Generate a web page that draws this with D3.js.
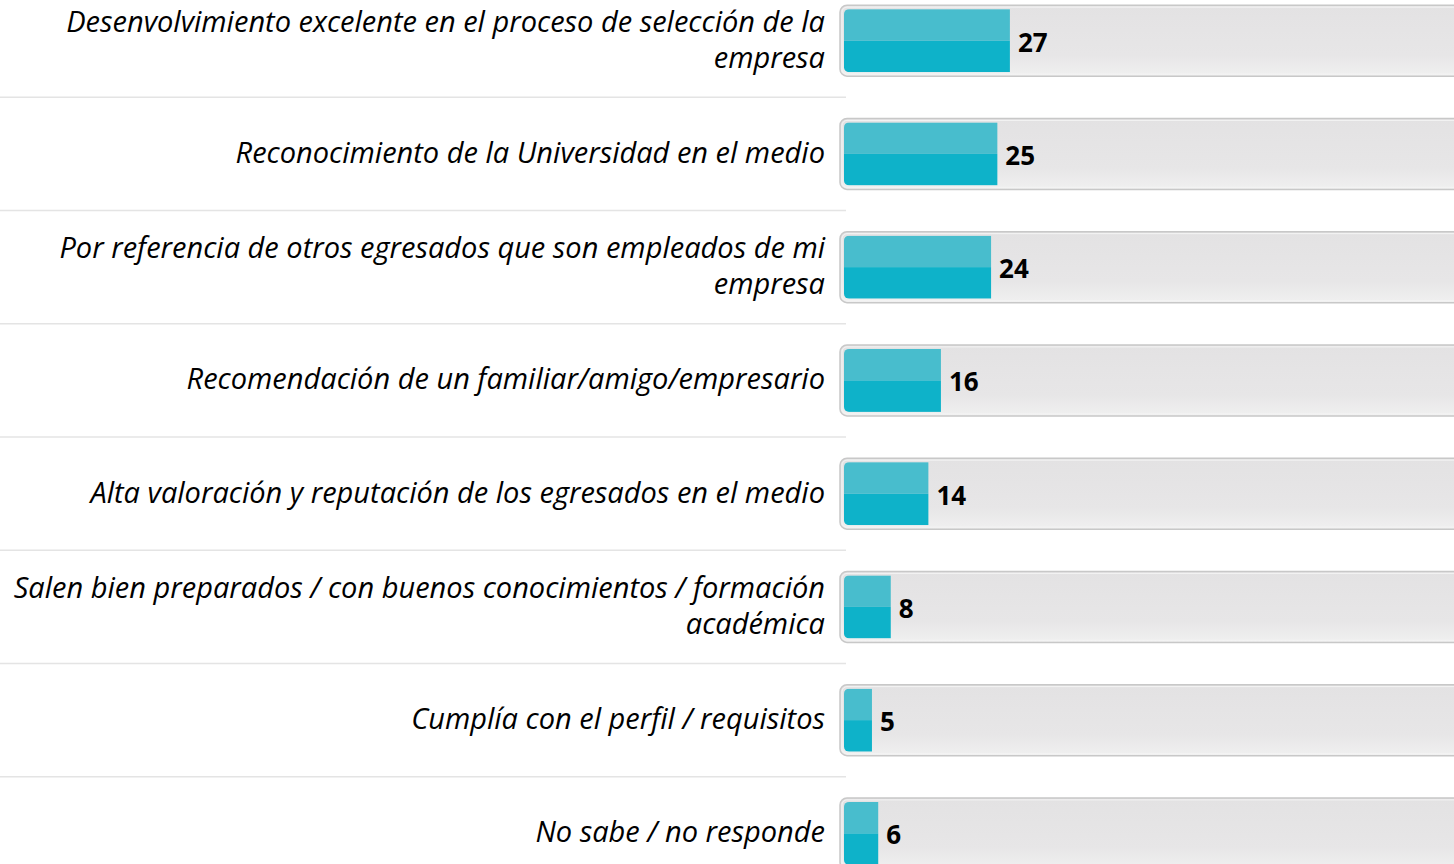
<!DOCTYPE html>
<html>
<head>
<meta charset="utf-8">
<script src="https://cdn.jsdelivr.net/npm/d3@7"></script>
<style>
  body { margin: 0; background: #fff; }
  svg { display: block; }
</style>
</head>
<body>
<div id="chart"></div>
<script>
var width = 1454,
  height = 864;

// chart data, top to bottom
var labels = [
  "Desenvolvimiento excelente en el proceso de selección de la\nempresa",
  "Reconocimiento de la Universidad en el medio",
  "Por referencia de otros egresados que son empleados de mi\nempresa",
  "Recomendación de un familiar/amigo/empresario",
  "Alta valoración y reputación de los egresados en el medio",
  "Salen bien preparados / con buenos conocimientos / formación\nacadémica",
  "Cumplía con el perfil / requisitos",
  "No sabe / no responde"
];
var values = [27, 25, 24, 16, 14, 8, 5, 6];

var svg = d3.select("#chart").append("svg")
  .attr("width", width)
  .attr("height", height);

var defs = svg.append("defs");

var trackGrad = defs.append("linearGradient")
  .attr("id", "track")
  .attr("x1", 0).attr("y1", 0).attr("x2", 0).attr("y2", 1);
trackGrad.append("stop").attr("offset", "0%").attr("stop-color", "#e3e2e3");
trackGrad.append("stop").attr("offset", "70%").attr("stop-color", "#e7e6e7");
trackGrad.append("stop").attr("offset", "100%").attr("stop-color", "#f0f0f0");

// x scale: value -> pixel, y scale: row -> band
var x = d3.scaleLinear()
  .domain([0, 30])
  .range([840.6, 840.6 + 30 * 6.27]);

var y = d3.scaleBand()
  .domain(d3.range(values.length))
  .range([-16, 890]);

var trackH = 71,
  barH = 63;

// row separators
svg.append("g").selectAll("line")
  .data(d3.range(values.length - 1))
  .enter().append("line")
  .attr("x1", 0)
  .attr("x2", 846)
  .attr("y1", function(d) { return y(d) + y.step(); })
  .attr("y2", function(d) { return y(d) + y.step(); })
  .attr("stroke", "#e4e4e4")
  .attr("stroke-width", 1.5);

var rows = svg.append("g").selectAll("g")
  .data(values)
  .enter().append("g")
  .attr("transform", function(d, i) {
    return "translate(0," + (y(i) + y.bandwidth() / 2) + ")";
  });

// background track (runs off the right edge)
rows.append("rect")
  .attr("x", 840)
  .attr("y", -trackH / 2)
  .attr("width", 640)
  .attr("height", trackH)
  .attr("rx", 7)
  .attr("fill", "url(#track)")
  .attr("stroke", "#c8c8c8")
  .attr("stroke-width", 1.5);

rows.append("rect")
  .attr("x", 842)
  .attr("y", -trackH / 2 + 2)
  .attr("width", 640)
  .attr("height", trackH - 4)
  .attr("rx", 5)
  .attr("fill", "none")
  .attr("stroke", "#f4f4f4")
  .attr("stroke-width", 1);

// bar clip so the left end is rounded
rows.each(function(d, i) {
  defs.append("clipPath")
    .attr("id", "clip" + i)
    .append("rect")
    .attr("x", 844)
    .attr("y", -barH / 2)
    .attr("width", x(d) - 844 + 10)
    .attr("height", barH)
    .attr("rx", 5);
});

var bars = rows.append("g")
  .attr("clip-path", function(d, i) { return "url(#clip" + i + ")"; });

bars.append("rect")
  .attr("x", 844)
  .attr("y", -barH / 2)
  .attr("width", function(d) { return x(d) - 844; })
  .attr("height", barH / 2)
  .attr("fill", "#48bdcd");

bars.append("rect")
  .attr("x", 844)
  .attr("y", 0)
  .attr("width", function(d) { return x(d) - 844; })
  .attr("height", barH / 2)
  .attr("fill", "#0eb2c9");

// value labels
rows.append("text")
  .attr("x", function(d) { return x(d) + 8; })
  .attr("y", 11)
  .attr("font-family", "'Open Sans', sans-serif")
  .attr("font-weight", "bold")
  .attr("font-size", "26px")
  .attr("fill", "#000")
  .text(function(d) { return d; });

// category labels, right aligned
rows.append("text")
  .attr("text-anchor", "end")
  .attr("font-family", "'Open Sans', sans-serif")
  .attr("font-style", "italic")
  .attr("font-size", "29px")
  .attr("fill", "#000")
  .each(function(d, i) {
    var lines = labels[i].split("\n");
    var t = d3.select(this);
    lines.forEach(function(l, k) {
      t.append("tspan")
        .attr("x", 825)
        .attr("y", (k - (lines.length - 1) / 2) * 36 + 9)
        .text(l);
    });
  });
</script>
</body>
</html>
